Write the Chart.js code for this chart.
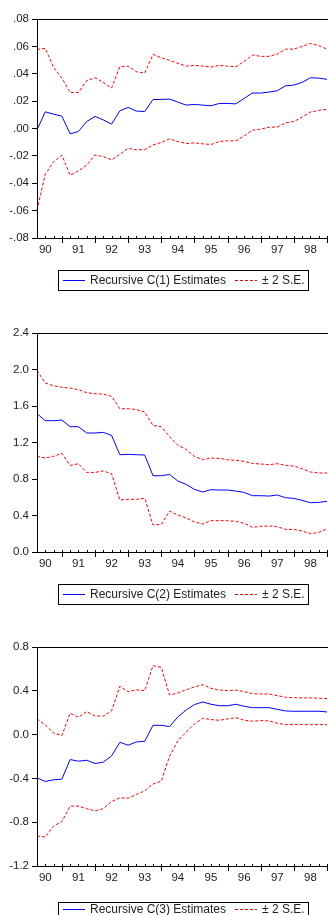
<!DOCTYPE html>
<html><head><meta charset="utf-8">
<script src="https://cdn.jsdelivr.net/npm/chart.js@4.4.1/dist/chart.umd.min.js"></script>
<style>
html,body{margin:0;padding:0;background:#fff;width:328px;height:915px;overflow:hidden;position:relative;}
.panel{position:absolute;left:0;width:332px;height:314px;}
</style></head><body>
<div class="panel" style="top:0"><canvas id="c1" width="332" height="314"></canvas></div>
<div class="panel" style="top:314px"><canvas id="c2" width="332" height="314"></canvas></div>
<div class="panel" style="top:628px"><canvas id="c3" width="332" height="314"></canvas></div>
<script>
// ---- data ----
const quarters = ['1989Q4',
 '1990Q1','1990Q2','1990Q3','1990Q4','1991Q1','1991Q2','1991Q3','1991Q4',
 '1992Q1','1992Q2','1992Q3','1992Q4','1993Q1','1993Q2','1993Q3','1993Q4',
 '1994Q1','1994Q2','1994Q3','1994Q4','1995Q1','1995Q2','1995Q3','1995Q4',
 '1996Q1','1996Q2','1996Q3','1996Q4','1997Q1','1997Q2','1997Q3','1997Q4',
 '1998Q1','1998Q2','1998Q3'];
const xTickLabels = ['90','91','92','93','94','95','96','97','98'];

const c1Est = [-0.001,0.0122,0.0105,0.009,-0.0039,-0.0022,0.0051,0.0088,0.0063,0.0032,0.0129,0.0154,0.0127,0.0124,0.0212,0.0212,0.0215,0.0193,0.0171,0.0176,0.0171,0.0166,0.0183,0.0183,0.018,0.022,0.0259,0.0259,0.0266,0.0276,0.0312,0.0317,0.0337,0.0371,0.0368,0.0359];
const c1Up = [0.0578,0.0585,0.0446,0.0368,0.0263,0.0263,0.0349,0.0371,0.0337,0.0295,0.0451,0.0456,0.0415,0.0405,0.0541,0.0517,0.0498,0.0476,0.0456,0.0461,0.0456,0.0449,0.0461,0.0456,0.0451,0.049,0.0537,0.0527,0.0527,0.0544,0.058,0.058,0.06,0.0622,0.0605,0.058];
const c1Lo = [-0.0595,-0.0334,-0.0244,-0.0195,-0.0341,-0.031,-0.0268,-0.0193,-0.0205,-0.0229,-0.0188,-0.0145,-0.0156,-0.0154,-0.012,-0.0102,-0.0076,-0.0095,-0.011,-0.0105,-0.0112,-0.0117,-0.0095,-0.009,-0.009,-0.0054,-0.0012,-0.0005,0.001,0.001,0.0041,0.0051,0.0083,0.012,0.0132,0.0141];
const c1YTicks = ['-.08','-.06','-.04','-.02','.00','.02','.04','.06','.08'];

const c2Est = [1.516,1.439,1.439,1.446,1.373,1.373,1.304,1.304,1.311,1.278,1.066,1.07,1.066,1.063,0.836,0.836,0.85,0.778,0.741,0.686,0.658,0.683,0.679,0.679,0.668,0.653,0.617,0.617,0.613,0.625,0.595,0.588,0.566,0.54,0.544,0.555];
const c2Up = [1.99,1.852,1.822,1.804,1.797,1.779,1.746,1.735,1.731,1.705,1.57,1.57,1.56,1.534,1.387,1.373,1.264,1.17,1.124,1.048,1.011,1.03,1.026,1.011,1.004,0.993,0.971,0.964,0.957,0.968,0.949,0.942,0.913,0.877,0.866,0.866];
const c2Lo = [1.048,1.03,1.048,1.081,0.949,0.968,0.872,0.872,0.888,0.858,0.57,0.577,0.577,0.588,0.296,0.303,0.449,0.405,0.373,0.329,0.307,0.343,0.343,0.343,0.336,0.314,0.27,0.281,0.285,0.277,0.248,0.248,0.23,0.201,0.215,0.255];
const c2YTicks = ['0.0','0.4','0.8','1.2','1.6','2.0','2.4'];

const c3Est = [-0.395,-0.428,-0.413,-0.407,-0.228,-0.243,-0.234,-0.264,-0.252,-0.194,-0.07,-0.097,-0.067,-0.061,0.085,0.085,0.073,0.161,0.225,0.274,0.298,0.277,0.264,0.264,0.277,0.259,0.246,0.246,0.246,0.231,0.216,0.213,0.213,0.213,0.213,0.207];
const c3Up = [0.143,0.088,0.015,-0.009,0.195,0.159,0.21,0.17,0.17,0.216,0.441,0.392,0.41,0.401,0.629,0.614,0.362,0.38,0.41,0.435,0.456,0.423,0.407,0.401,0.407,0.392,0.374,0.371,0.371,0.356,0.341,0.337,0.335,0.335,0.332,0.328];
const c3Lo = [-0.926,-0.935,-0.835,-0.796,-0.653,-0.653,-0.677,-0.696,-0.677,-0.611,-0.577,-0.58,-0.547,-0.513,-0.452,-0.425,-0.197,-0.055,0.022,0.098,0.149,0.137,0.131,0.143,0.155,0.131,0.122,0.128,0.125,0.104,0.091,0.091,0.091,0.091,0.091,0.091];
const c3YTicks = ['-1.2','-0.8','-0.4','0.0','0.4','0.8'];

const seLabel = '\u00B1 2 S.E.';

// ---- drawing ----
Chart.defaults.font.family = '"Liberation Sans", Arial, sans-serif';
Chart.defaults.font.size = 11.5;
Chart.defaults.color = '#222';

const framePlugin = {
  id: 'frame',
  afterDraw(chart, args, opts) {
    const {ctx, chartArea: a, scales: {x}} = chart;
    ctx.save();
    ctx.strokeStyle = '#000';
    ctx.lineWidth = 1;
    ctx.setLineDash([]);
    ctx.beginPath();
    ctx.moveTo(a.left + 0.5, a.top + 0.5); ctx.lineTo(a.right + 5, a.top + 0.5);
    ctx.moveTo(a.left + 0.5, a.top + 0.5); ctx.lineTo(a.left + 0.5, a.bottom + 0.5);
    ctx.moveTo(a.left, a.bottom + 0.5); ctx.lineTo(a.right + 5, a.bottom + 0.5);
    for (let i = 0; i < chart.data.labels.length; i++) {
      const px = Math.round(x.getPixelForValue(i)) + 0.5;
      const major = (i % 4) === 3;
      ctx.moveTo(px, a.bottom - 2);
      ctx.lineTo(px, a.bottom + (major ? 5 : 1));
    }
    ctx.stroke();

    const top = Math.round(a.bottom + opts.legendOffset);
    ctx.strokeRect(58.5, top + 0.5, 250, 20);
    const ly = top + opts.textOffset;
    const ds = chart.data.datasets;
    ctx.beginPath();
    ctx.strokeStyle = ds[0].borderColor;
    ctx.moveTo(63, ly); ctx.lineTo(85, ly);
    ctx.stroke();
    ctx.beginPath();
    ctx.strokeStyle = ds[1].borderColor;
    ctx.setLineDash(ds[1].borderDash);
    ctx.moveTo(235, ly); ctx.lineTo(257, ly);
    ctx.stroke();
    ctx.setLineDash([]);
    ctx.fillStyle = '#222';
    ctx.font = '12px "Liberation Sans", Arial, sans-serif';
    ctx.textBaseline = 'middle';
    ctx.textAlign = 'left';
    ctx.fillText(ds[0].label, 90, ly);
    ctx.fillText(seLabel, 262, ly);
    ctx.restore();
  }
};

function makeChart(id, est, up, lo, yTicks, min, max, step, name, legendOffset, textOffset) {
  const dash = [3, 2];
  new Chart(document.getElementById(id), {
    type: 'line',
    data: {
      labels: quarters,
      datasets: [
        {label: name, data: est, borderColor: '#0000ff', borderWidth: 1, pointRadius: 0, tension: 0, fill: false},
        {label: seLabel, data: up, borderColor: '#ff0000', borderWidth: 1, borderDash: dash, pointRadius: 0, tension: 0, fill: false},
        {label: seLabel + ' ', data: lo, borderColor: '#ff0000', borderWidth: 1, borderDash: dash, pointRadius: 0, tension: 0, fill: false}
      ]
    },
    options: {
      responsive: false,
      animation: false,
      events: [],
      layout: {padding: {top: 19, right: 2.7, left: 0, bottom: 0}},
      plugins: {legend: {display: false}, tooltip: {enabled: false}, frame: {legendOffset, textOffset}},
      scales: {
        x: {
          type: 'category',
          offset: false,
          grid: {display: false, drawTicks: false, tickLength: 0},
          border: {display: false},
          ticks: {
            autoSkip: false, maxRotation: 0, padding: 5,
            font: {size: 11.5},
            callback: (v, i) => (quarters[i].endsWith('Q1') ? xTickLabels[(i - 1) / 4] : '')
          },
          afterFit: s => { s.height = 76; }
        },
        y: {
          min, max,
          grid: {drawOnChartArea: false, drawTicks: true, tickLength: 5, color: '#000'},
          border: {display: false},
          ticks: {
            stepSize: step, padding: 3, font: {size: 11.5},
            callback: v => yTicks[Math.round((v - min) / step)]
          },
          afterFit: s => { s.width = 37; }
        }
      }
    },
    plugins: [framePlugin]
  });
}

makeChart('c1', c1Est, c1Up, c1Lo, c1YTicks, -0.08, 0.08, 0.02, 'Recursive C(1) Estimates', 32, 10.5);
makeChart('c2', c2Est, c2Up, c2Lo, c2YTicks, 0, 2.4, 0.4, 'Recursive C(2) Estimates', 32, 10.5);
makeChart('c3', c3Est, c3Up, c3Lo, c3YTicks, -1.2, 0.8, 0.4, 'Recursive C(3) Estimates', 36, 7.5);
</script>
</body></html>
